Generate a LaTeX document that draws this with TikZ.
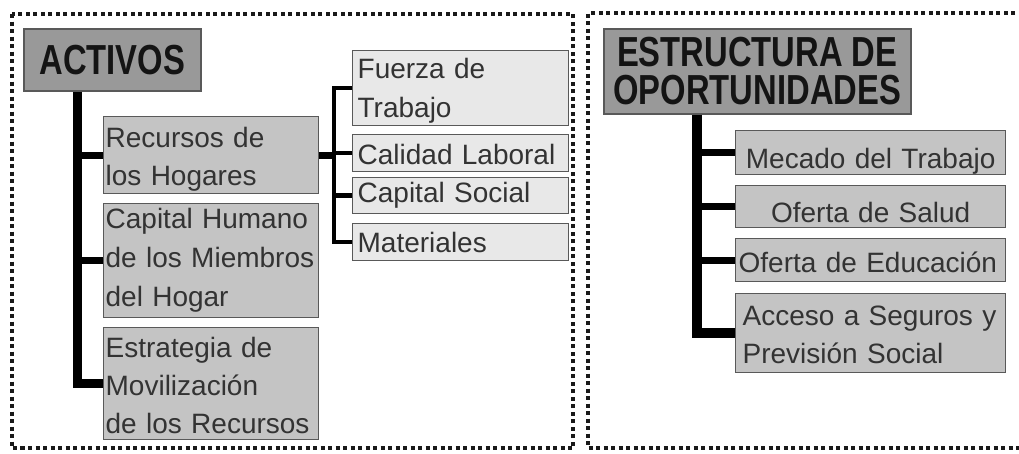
\documentclass[tikz,border=0pt]{standalone}
\usepackage{fontspec}
\setmainfont{Liberation Sans}
\newfontfamily\headfont[FakeStretch=0.78]{Liberation Sans}
\newcommand{\fl}[1]{\rule{0pt}{#1pt}}
\tikzset{
  frame/.style={line width=4pt, dash pattern=on 4pt off 3.5pt, draw=black!90},
  headbox/.style={draw=black!65, line width=1.5pt, fill=black!40, text=black!92,
    font=\headfont\bfseries\fontsize{42}{38}\selectfont, align=center,
    anchor=north west, inner sep=0pt},
  midbox/.style={draw=black!65, line width=1.3pt, fill=black!23, text=black!80,
    font=\fontsize{28}{38}\selectfont, anchor=north west, inner xsep=2pt,
    inner ysep=0pt, align=left},
  lightbox/.style={midbox, fill=black!9, inner xsep=5pt},
  trunk/.style={line width=9pt, draw=black},
  branch/.style={line width=7pt, draw=black},
  thinline/.style={line width=4.5pt, draw=black}
}
\begin{document}
\hyphenpenalty=10000
\exhyphenpenalty=10000
\begin{tikzpicture}[x=1pt,y=-1pt]
\useasboundingbox (0,0) rectangle (1019,453);
% frames
\draw[frame] (12,14) rectangle (573,448);
\draw[frame] (1030,13) -- (588,13) -- (588,448) -- (1030,448);
% left side
\node[headbox, minimum width=177pt, minimum height=62pt] (act) at (23,28) {ACTIVOS};
\node[midbox, minimum width=215pt, minimum height=77pt, text width=211pt] (rec) at (103,116) {\fl{29}Recursos de\\los Hogares};
\node[midbox, minimum width=215pt, minimum height=114pt, text width=211pt, font=\fontsize{28}{39}\selectfont] (cap) at (103,203) {Capital Humano\\de los Miembros\\del Hogar};
\node[midbox, minimum width=215pt, minimum height=112pt, text width=211pt] (estr) at (103,327) {\fl{24}Estrategia de\\Movilización\\de los Recursos};
\node[lightbox, minimum width=216pt, minimum height=75pt, text width=206pt, font=\fontsize{28}{39}\selectfont] (fue) at (352,50) {\fl{26}Fuerza de\\Trabajo};
\node[lightbox, minimum width=216pt, minimum height=37pt, text width=206pt] (cal) at (352,134) {\fl{23}Calidad Laboral};
\node[lightbox, minimum width=216pt, minimum height=36pt, text width=206pt] (soc) at (352,177) {\fl{20}Capital Social};
\node[lightbox, minimum width=216pt, minimum height=37pt, text width=206pt] (mat) at (352,223) {\fl{21}Materiales};
% right side
\node[headbox, minimum width=307pt, minimum height=85pt] (eo) at (603,28) {ESTRUCTURA DE\\OPORTUNIDADES};
\node[midbox, minimum width=270pt, minimum height=42pt, text width=262pt, align=center] (mec) at (735,130) {\fl{38}Mecado del Trabajo};
\node[midbox, minimum width=270pt, minimum height=42pt, text width=262pt, align=center] (sal) at (735,185) {\fl{32}Oferta de Salud};
\node[midbox, minimum width=270pt, minimum height=43pt, text width=264pt, inner xsep=3pt] (edu) at (735,238) {\fl{25}Oferta de Educación};
\node[midbox, minimum width=270pt, minimum height=79pt, text width=256pt, inner xsep=7pt] (acc) at (735,293) {\fl{23}Acceso a Seguros y\\Previsión Social};
% connectors left
\coordinate (t1) at (77,90);
\draw[trunk] (t1 |- act.south) |- (estr.west);
\draw[branch] (t1 |- rec.west) -- (rec.west);
\draw[branch] (t1 |- cap.west) -- (cap.west);
\coordinate (t2) at (334,150);
\draw[thinline] (fue.west) -- (t2 |- fue.west) -- (t2 |- mat.west) -- (mat.west);
\draw[branch] (rec.east) -- (t2 |- rec.east);
\draw[thinline] (t2 |- cal.west) -- (cal.west);
\draw[thinline] (t2 |- soc.west) -- (soc.west);
% connectors right
\coordinate (t3) at (697,113);
\draw[trunk, line width=10pt] (t3 |- eo.south) |- (acc.west);
\draw[branch] (t3 |- mec.west) -- (mec.west);
\draw[branch] (t3 |- sal.west) -- (sal.west);
\draw[branch] (t3 |- edu.west) -- (edu.west);
\end{tikzpicture}
\end{document}
